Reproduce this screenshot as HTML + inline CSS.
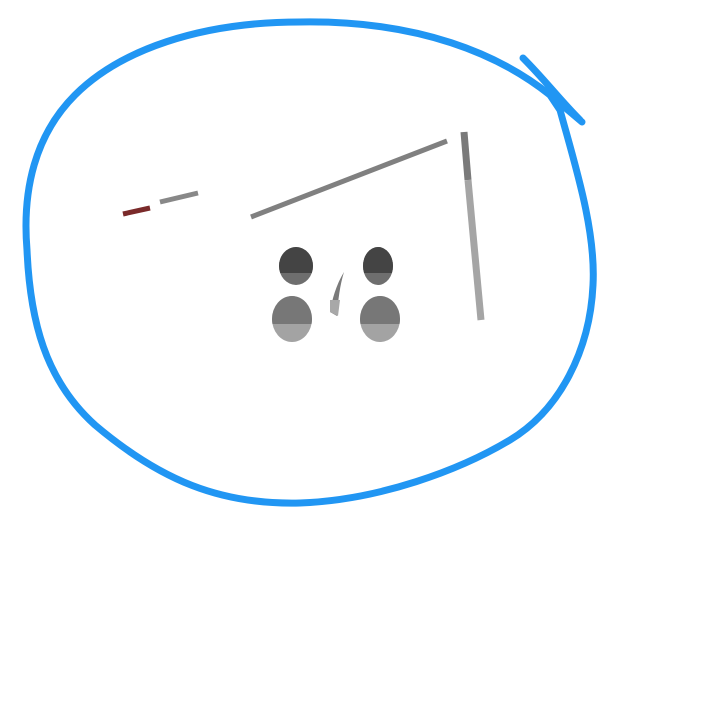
<!DOCTYPE html>
<html><head><style>html,body{margin:0;padding:0;background:#fff;width:720px;height:720px;overflow:hidden}</style></head>
<body>
<svg width="720" height="720" viewBox="0 0 720 720" xmlns="http://www.w3.org/2000/svg">
<path d="M550,95 C500,55 420,20 300,22 C200,22 120,50 75,95 C35,135 22,190 27,250 C30,320 45,380 95,425 C160,480 220,505 300,503 C380,500 460,470 510,440 C560,410 590,350 593,285 C596,230 575,165 560,110 Z" fill="none" stroke="#2196f3" stroke-width="7" stroke-linejoin="round"/>
<path d="M523,58 C545,80 560,100 580,120 M550,95 L582,122" fill="none" stroke="#2196f3" stroke-width="7" stroke-linecap="round"/>
<line x1="123" y1="214" x2="150" y2="208" stroke="#7a2a2a" stroke-width="5"/>
<line x1="160" y1="202" x2="198" y2="193" stroke="#888" stroke-width="5"/>
<line x1="251" y1="217" x2="447" y2="141" stroke="#808080" stroke-width="5"/>
<line x1="464" y1="132" x2="468" y2="180" stroke="#7a7a7a" stroke-width="7"/>
<line x1="468" y1="180" x2="481" y2="320" stroke="#a5a5a5" stroke-width="7"/>
<defs>
<clipPath id="t1"><rect x="0" y="0" width="720" height="273"/></clipPath>
<clipPath id="t2"><rect x="0" y="0" width="720" height="324"/></clipPath>
</defs>
<ellipse cx="296" cy="266" rx="17" ry="19" fill="#6e6e6e"/>
<ellipse cx="296" cy="266" rx="17" ry="19" fill="#444" clip-path="url(#t1)"/>
<ellipse cx="378" cy="266" rx="15" ry="19" fill="#6e6e6e"/>
<ellipse cx="378" cy="266" rx="15" ry="19" fill="#444" clip-path="url(#t1)"/>
<ellipse cx="292" cy="319" rx="20" ry="23" fill="#a3a3a3"/>
<ellipse cx="292" cy="319" rx="20" ry="23" fill="#777" clip-path="url(#t2)"/>
<ellipse cx="380" cy="319" rx="20" ry="23" fill="#a3a3a3"/>
<ellipse cx="380" cy="319" rx="20" ry="23" fill="#777" clip-path="url(#t2)"/>
<path d="M344,272 C336,285 332,300 330,312 L337,316 C338,300 340,285 344,272 Z" fill="#7a7a7a"/>
<path d="M330,300 L340,300 L338,316 L330,312 Z" fill="#a8a8a8"/>
</svg>
</body></html>
